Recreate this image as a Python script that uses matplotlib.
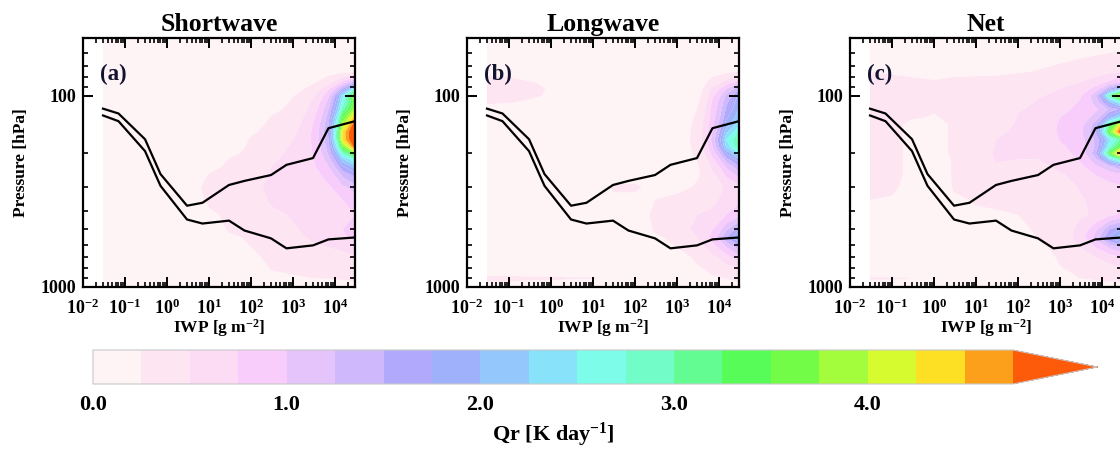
import numpy as np
import matplotlib
matplotlib.use("Agg")
import matplotlib.pyplot as plt
from matplotlib.colors import ListedColormap
from matplotlib.ticker import LogLocator, FuncFormatter, NullFormatter

# ---------------------------------------------------------------------------
# Data
# ---------------------------------------------------------------------------
titles = ["Shortwave", "Longwave", "Net"]
panel_tags = ["(a)", "(b)", "(c)"]

# IWP bins of the two outline curves [g m-2] and their pressures [hPa]
iwp_bins = [0.03, 0.07, 0.3, 0.7, 3, 7, 30, 70, 300, 700, 3000, 7000, 30000]
line_upper_hpa = [117, 124, 169, 257, 376, 363, 293, 279, 260, 230, 212, 148, 136]
line_lower_hpa = [127, 136, 195, 296, 444, 466, 450, 507, 557, 628, 606, 564, 551]

# Grid of the heating-rate field
iwp_grid = [0.03, 0.1, 0.3, 1, 3, 10, 30, 100, 300, 1000, 3000, 7000, 15000, 30000]
p_grid = [50, 75, 85, 92, 100, 108, 118, 130, 142, 155, 170, 185, 200, 215,
          235, 260, 300, 350, 420, 500, 550, 620, 700, 800, 900, 1000]

# Qr [K day-1]; one list per IWP column, values ordered as p_grid
qr_sw_cols = [
    [0.1, 0.1, 0.1, 0.1, 0.1, 0.1, 0.1, 0.1, 0.1, 0.1, 0.1, 0.1, 0.1, 0.1, 0.1, 0.1, 0.1, 0.1, 0.1, 0.1, 0.1, 0.1, 0.1, 0.1, 0.1, 0.1],
    [0.1, 0.1, 0.1, 0.1, 0.1, 0.1, 0.1, 0.1, 0.1, 0.1, 0.1, 0.1, 0.1, 0.1, 0.1, 0.1, 0.1, 0.1, 0.1, 0.1, 0.1, 0.1, 0.1, 0.1, 0.1, 0.1],
    [0.1, 0.1, 0.1, 0.1, 0.1, 0.1, 0.1, 0.1, 0.1, 0.1, 0.1, 0.1, 0.1, 0.1, 0.1, 0.1, 0.1, 0.1, 0.1, 0.1, 0.1, 0.1, 0.1, 0.1, 0.1, 0.1],
    [0.1, 0.1, 0.1, 0.1, 0.1, 0.1, 0.1, 0.1, 0.1, 0.1, 0.1, 0.1, 0.1, 0.1, 0.1, 0.12, 0.14, 0.12, 0.1, 0.1, 0.1, 0.1, 0.1, 0.1, 0.1, 0.1],
    [0.1, 0.1, 0.1, 0.1, 0.1, 0.1, 0.1, 0.1, 0.1, 0.1, 0.1, 0.1, 0.1, 0.12, 0.14, 0.17, 0.2, 0.18, 0.14, 0.12, 0.1, 0.1, 0.1, 0.1, 0.1, 0.08],
    [0.1, 0.1, 0.1, 0.1, 0.1, 0.1, 0.1, 0.1, 0.12, 0.12, 0.12, 0.12, 0.14, 0.16, 0.2, 0.26, 0.3, 0.28, 0.22, 0.18, 0.15, 0.13, 0.12, 0.12, 0.1, 0.06],
    [0.1, 0.1, 0.1, 0.1, 0.1, 0.1, 0.1, 0.12, 0.12, 0.12, 0.12, 0.15, 0.2, 0.26, 0.3, 0.34, 0.38, 0.35, 0.3, 0.27, 0.22, 0.18, 0.15, 0.12, 0.1, 0.05],
    [0.1, 0.1, 0.1, 0.1, 0.1, 0.12, 0.13, 0.15, 0.18, 0.22, 0.28, 0.31, 0.34, 0.37, 0.4, 0.43, 0.46, 0.44, 0.4, 0.33, 0.29, 0.25, 0.22, 0.18, 0.14, 0.05],
    [0.1, 0.1, 0.11, 0.12, 0.14, 0.17, 0.21, 0.26, 0.31, 0.35, 0.38, 0.41, 0.44, 0.47, 0.5, 0.52, 0.55, 0.52, 0.47, 0.4, 0.36, 0.32, 0.3, 0.26, 0.2, 0.08],
    [0.1, 0.12, 0.15, 0.19, 0.24, 0.28, 0.32, 0.38, 0.42, 0.46, 0.5, 0.55, 0.58, 0.6, 0.6, 0.6, 0.58, 0.56, 0.52, 0.48, 0.45, 0.4, 0.35, 0.3, 0.22, 0.1],
    [0.1, 0.14, 0.22, 0.33, 0.45, 0.55, 0.62, 0.7, 0.76, 0.8, 0.8, 0.78, 0.76, 0.74, 0.72, 0.68, 0.62, 0.58, 0.55, 0.58, 0.55, 0.45, 0.38, 0.32, 0.25, 0.1],
    [0.1, 0.16, 0.4, 0.7, 0.95, 1.1, 1.25, 1.4, 1.5, 1.55, 1.5, 1.4, 1.3, 1.15, 1.0, 0.85, 0.72, 0.62, 0.58, 0.65, 0.62, 0.5, 0.4, 0.33, 0.26, 0.1],
    [0.1, 0.18, 0.8, 1.5, 2.4, 2.6, 2.9, 3.5, 3.9, 4.3, 4.3, 3.6, 2.8, 2.2, 1.7, 1.3, 0.95, 0.75, 0.65, 0.75, 0.72, 0.55, 0.42, 0.35, 0.28, 0.12],
    [0.1, 0.2, 1.4, 2.6, 4.2, 3.7, 4.0, 4.6, 5.1, 5.4, 5.3, 5.0, 3.8, 2.8, 2.1, 1.6, 1.15, 0.85, 0.75, 0.85, 0.82, 0.6, 0.48, 0.38, 0.3, 0.15],
]

qr_lw_cols = [
    [0.1, 0.22, 0.3, 0.34, 0.33, 0.27, 0.2, 0.15, 0.12, 0.1, 0.1, 0.1, 0.1, 0.1, 0.1, 0.1, 0.1, 0.1, 0.1, 0.1, 0.1, 0.1, 0.12, 0.16, 0.28, 0.2],
    [0.1, 0.2, 0.3, 0.33, 0.32, 0.26, 0.18, 0.14, 0.12, 0.1, 0.1, 0.1, 0.1, 0.1, 0.1, 0.1, 0.1, 0.1, 0.1, 0.1, 0.1, 0.1, 0.12, 0.16, 0.28, 0.2],
    [0.1, 0.15, 0.26, 0.3, 0.29, 0.22, 0.16, 0.13, 0.11, 0.1, 0.1, 0.1, 0.1, 0.1, 0.1, 0.1, 0.1, 0.1, 0.1, 0.1, 0.1, 0.1, 0.12, 0.16, 0.27, 0.18],
    [0.1, 0.12, 0.2, 0.22, 0.2, 0.16, 0.13, 0.12, 0.1, 0.1, 0.1, 0.1, 0.1, 0.1, 0.1, 0.1, 0.1, 0.1, 0.1, 0.1, 0.1, 0.1, 0.12, 0.16, 0.27, 0.18],
    [0.1, 0.1, 0.12, 0.12, 0.12, 0.1, 0.1, 0.1, 0.1, 0.1, 0.1, 0.1, 0.1, 0.1, 0.1, 0.1, 0.1, 0.1, 0.1, 0.1, 0.1, 0.1, 0.12, 0.16, 0.26, 0.16],
    [0.1, 0.1, 0.1, 0.1, 0.1, 0.1, 0.1, 0.1, 0.1, 0.1, 0.1, 0.1, 0.1, 0.1, 0.1, 0.12, 0.15, 0.14, 0.12, 0.1, 0.1, 0.1, 0.12, 0.16, 0.26, 0.15],
    [0.1, 0.1, 0.1, 0.1, 0.1, 0.1, 0.1, 0.1, 0.1, 0.1, 0.1, 0.1, 0.1, 0.12, 0.15, 0.2, 0.27, 0.22, 0.15, 0.12, 0.1, 0.1, 0.1, 0.14, 0.2, 0.12],
    [0.1, 0.1, 0.1, 0.1, 0.1, 0.1, 0.1, 0.1, 0.1, 0.1, 0.1, 0.1, 0.1, 0.12, 0.15, 0.2, 0.27, 0.22, 0.17, 0.14, 0.12, 0.1, 0.1, 0.1, 0.12, 0.1],
    [0.1, 0.1, 0.1, 0.1, 0.1, 0.1, 0.1, 0.1, 0.1, 0.1, 0.1, 0.1, 0.1, 0.1, 0.12, 0.14, 0.18, 0.25, 0.3, 0.28, 0.22, 0.16, 0.12, 0.1, 0.1, 0.1],
    [0.1, 0.1, 0.1, 0.1, 0.1, 0.1, 0.1, 0.1, 0.12, 0.13, 0.14, 0.14, 0.14, 0.14, 0.15, 0.16, 0.2, 0.3, 0.42, 0.45, 0.35, 0.25, 0.18, 0.14, 0.12, 0.1],
    [0.1, 0.1, 0.12, 0.13, 0.15, 0.2, 0.25, 0.3, 0.33, 0.35, 0.35, 0.33, 0.3, 0.26, 0.22, 0.22, 0.28, 0.4, 0.5, 0.55, 0.5, 0.4, 0.3, 0.22, 0.18, 0.12],
    [0.1, 0.16, 0.35, 0.55, 0.7, 0.8, 0.85, 0.9, 0.95, 1.0, 1.1, 1.0, 0.85, 0.7, 0.55, 0.45, 0.38, 0.45, 0.55, 0.75, 0.85, 0.65, 0.45, 0.32, 0.22, 0.12],
    [0.1, 0.2, 0.6, 1.0, 1.3, 1.45, 1.55, 1.7, 1.9, 2.2, 2.5, 2.3, 1.8, 1.4, 1.05, 0.8, 0.55, 0.6, 0.75, 1.2, 1.5, 1.0, 0.65, 0.4, 0.26, 0.15],
    [0.1, 0.24, 0.9, 1.45, 1.8, 1.95, 2.05, 2.2, 2.45, 2.8, 3.2, 3.1, 2.5, 2.0, 1.5, 1.1, 0.65, 0.7, 0.9, 1.7, 2.1, 1.4, 0.9, 0.5, 0.3, 0.18],
]

qr_net_cols = [
    [0.12, 0.25, 0.35, 0.38, 0.38, 0.35, 0.32, 0.3, 0.3, 0.3, 0.29, 0.28, 0.28, 0.27, 0.27, 0.26, 0.26, 0.25, 0.22, 0.2, 0.18, 0.16, 0.15, 0.18, 0.26, 0.2],
    [0.12, 0.22, 0.33, 0.36, 0.36, 0.33, 0.3, 0.28, 0.27, 0.27, 0.27, 0.27, 0.27, 0.27, 0.27, 0.27, 0.27, 0.24, 0.2, 0.18, 0.16, 0.15, 0.14, 0.17, 0.26, 0.2],
    [0.12, 0.2, 0.3, 0.33, 0.33, 0.3, 0.27, 0.26, 0.22, 0.22, 0.22, 0.22, 0.22, 0.22, 0.22, 0.22, 0.18, 0.16, 0.15, 0.14, 0.14, 0.14, 0.14, 0.16, 0.25, 0.18],
    [0.12, 0.18, 0.27, 0.3, 0.3, 0.28, 0.26, 0.24, 0.18, 0.18, 0.18, 0.18, 0.18, 0.18, 0.18, 0.18, 0.16, 0.14, 0.13, 0.12, 0.12, 0.12, 0.12, 0.15, 0.24, 0.16],
    [0.12, 0.2, 0.3, 0.3, 0.3, 0.3, 0.3, 0.3, 0.3, 0.3, 0.3, 0.3, 0.3, 0.27, 0.27, 0.27, 0.27, 0.22, 0.16, 0.13, 0.12, 0.12, 0.12, 0.14, 0.2, 0.14],
    [0.12, 0.2, 0.32, 0.32, 0.32, 0.32, 0.32, 0.32, 0.38, 0.38, 0.38, 0.38, 0.38, 0.38, 0.38, 0.4, 0.35, 0.28, 0.2, 0.15, 0.13, 0.12, 0.12, 0.13, 0.16, 0.12],
    [0.12, 0.22, 0.3, 0.33, 0.33, 0.33, 0.33, 0.33, 0.4, 0.45, 0.5, 0.52, 0.55, 0.52, 0.48, 0.42, 0.35, 0.3, 0.22, 0.17, 0.14, 0.13, 0.12, 0.12, 0.13, 0.1],
    [0.12, 0.24, 0.32, 0.35, 0.38, 0.42, 0.48, 0.52, 0.55, 0.58, 0.6, 0.58, 0.55, 0.5, 0.45, 0.4, 0.36, 0.3, 0.25, 0.22, 0.18, 0.15, 0.13, 0.12, 0.12, 0.1],
    [0.12, 0.26, 0.36, 0.42, 0.48, 0.53, 0.58, 0.62, 0.64, 0.64, 0.62, 0.58, 0.54, 0.5, 0.46, 0.42, 0.36, 0.32, 0.3, 0.28, 0.26, 0.22, 0.18, 0.15, 0.13, 0.1],
    [0.12, 0.3, 0.42, 0.5, 0.58, 0.64, 0.7, 0.75, 0.78, 0.78, 0.76, 0.72, 0.68, 0.62, 0.55, 0.48, 0.42, 0.38, 0.36, 0.38, 0.36, 0.32, 0.28, 0.24, 0.2, 0.12],
    [0.12, 0.35, 0.5, 0.62, 0.72, 0.78, 0.82, 0.88, 0.92, 0.95, 0.92, 0.88, 0.85, 0.78, 0.7, 0.6, 0.52, 0.48, 0.46, 0.6, 0.65, 0.5, 0.4, 0.32, 0.25, 0.12],
    [0.12, 0.4, 0.62, 0.85, 1.2, 1.1, 0.95, 1.1, 1.4, 1.5, 1.3, 1.3, 1.45, 1.2, 0.95, 0.75, 0.62, 0.56, 0.55, 0.95, 1.1, 0.75, 0.5, 0.38, 0.28, 0.14],
    [0.12, 0.45, 0.8, 1.5, 3.0, 2.0, 1.3, 1.9, 3.2, 3.6, 2.4, 2.7, 3.5, 2.3, 1.2, 0.85, 0.68, 0.65, 0.7, 1.5, 1.8, 1.05, 0.62, 0.42, 0.3, 0.16],
    [0.12, 0.5, 1.0, 2.2, 4.7, 2.8, 1.6, 2.6, 4.6, 5.4, 3.2, 3.8, 5.3, 3.2, 1.5, 0.95, 0.72, 0.7, 0.8, 1.8, 2.2, 1.3, 0.72, 0.46, 0.32, 0.18],
]

# Colour table of the shading, 0.25 K day-1 per step
level_step = 0.25
n_levels = 19
shade_colors = [
    "#fff4f5", "#fde5f1", "#fcdcf5", "#f8cdfc", "#e5c4fc", "#d0b8fc",
    "#b1a9fc", "#a0b1fc", "#94c8fc", "#88e2fa", "#7dfcea", "#71fcc8",
    "#62fc92", "#58fc58", "#72fc48", "#a3fc3c", "#d6fc30", "#fde024",
    "#fca01c",
]
over_color = "#fd5a0a"
cbar_ticks = [0.0, 1.0, 2.0, 3.0, 4.0]

# ---------------------------------------------------------------------------
# Style
# ---------------------------------------------------------------------------
SERIF = "Liberation Serif"
plt.rcParams.update({
    "font.family": SERIF,
    "font.weight": "bold",
    "axes.titleweight": "bold",
    "axes.labelweight": "bold",
    "mathtext.fontset": "custom",
    "mathtext.rm": f"{SERIF}:bold",
    "mathtext.bf": f"{SERIF}:bold",
    "mathtext.it": f"{SERIF}:bold:italic",
    "mathtext.default": "rm",
})

cmap = ListedColormap(shade_colors)
cmap.set_over(over_color)
levels = np.arange(n_levels + 1) * level_step

fig = plt.figure(figsize=(11.2, 4.5), dpi=100)
W, H = 1120.0, 450.0

ax_left_px = [83, 467, 850]
ax_top_px, ax_bot_px, ax_w_px = 38, 287, 272

fields = [qr_sw_cols, qr_lw_cols, qr_net_cols]
cs = None
for i in range(3):
    ax = fig.add_axes([ax_left_px[i] / W, 1 - ax_bot_px / H,
                       ax_w_px / W, (ax_bot_px - ax_top_px) / H])
    z = np.array(fields[i]).T
    cs = ax.contourf(iwp_grid, p_grid, z, levels=levels, cmap=cmap,
                     extend="max", antialiased=True)
    ax.plot(iwp_bins, line_upper_hpa, color="black", lw=1.6, zorder=5)
    ax.plot(iwp_bins, line_lower_hpa, color="black", lw=1.6, zorder=5)

    ax.set_xscale("log")
    ax.set_yscale("log")
    ax.set_xlim(0.01, 30000)
    ax.set_ylim(1000, 50)

    ax.xaxis.set_major_locator(LogLocator(base=10, numticks=20))
    ax.xaxis.set_minor_locator(LogLocator(base=10, subs=np.arange(2, 10), numticks=20))
    ax.xaxis.set_major_formatter(FuncFormatter(lambda v, _: r"$10^{%d}$" % round(np.log10(v))))
    ax.xaxis.set_minor_formatter(NullFormatter())
    ax.yaxis.set_major_locator(LogLocator(base=10, numticks=10))
    ax.yaxis.set_minor_locator(LogLocator(base=10, subs=np.arange(2, 10), numticks=10))
    ax.yaxis.set_major_formatter(FuncFormatter(lambda v, _: "%d" % round(v)))
    ax.yaxis.set_minor_formatter(NullFormatter())

    ax.tick_params(which="both", direction="in", top=True, right=True,
                   labelsize=13, width=1.4)
    ax.tick_params(which="major", length=7)
    ax.tick_params(axis="x", which="major", pad=8)
    ax.tick_params(axis="y", which="major", pad=5)
    ax.tick_params(which="minor", length=3.5, width=1.2)
    for sp in ax.spines.values():
        sp.set_linewidth(1.6)

    ax.set_xlabel(r"IWP [g m$^{-2}$]", fontsize=12.5, labelpad=0)
    ax.set_ylabel("Pressure [hPa]", fontsize=12.5, labelpad=8)
    ax.set_title(titles[i], fontsize=18.5, pad=5)
    ax.text(0.062, 0.855, panel_tags[i], transform=ax.transAxes,
            fontsize=16.5, color="#141432", ha="left", va="center")

# Colour bar with an arrow for values above the top level
extend_frac = 0.092
cb_left, cb_right_rect = 93, 1013
cb_width = (cb_right_rect - cb_left) * (1 + extend_frac)
cax = fig.add_axes([cb_left / W, 1 - 384 / H, cb_width / W, 34 / H])
cb = fig.colorbar(cs, cax=cax, orientation="horizontal", ticks=cbar_ticks,
                  extendfrac=extend_frac, drawedges=False)
cb.outline.set_edgecolor("#c8c8c8")
cb.outline.set_linewidth(0.8)
cb.ax.tick_params(length=0, labelsize=16, pad=8)
cb.ax.set_xticklabels(["%.1f" % t for t in cbar_ticks])
cb.set_label(r"Qr [K day$^{-1}$]", fontsize=16, labelpad=4)

fig.savefig("out.png", dpi=100)
